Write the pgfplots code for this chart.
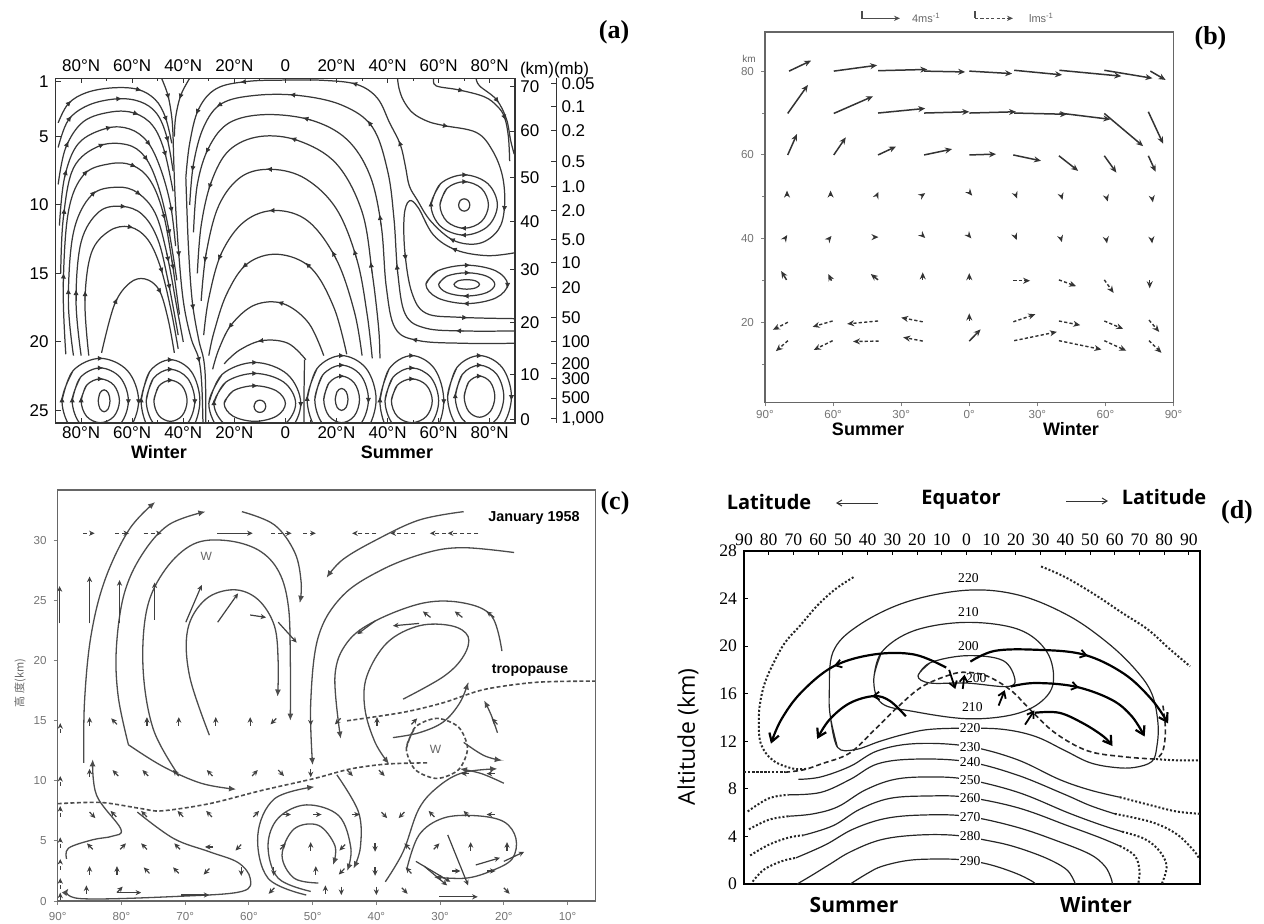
\documentclass[border=0pt]{standalone}
\usepackage{fontspec}
\setmainfont{Liberation Sans}
\newfontfamily\tnr{Liberation Serif}
\newfontfamily\os{Open Sans}
\newfontfamily\cjk{Noto Sans CJK JP}
\usepackage{pgfplots}
\pgfplotsset{compat=1.18}
\usetikzlibrary{arrows.meta}

\tikzset{
  sa/.style={smooth, tension=0.6, black!78, line width=0.62pt},
  sc/.style={smooth, tension=0.6, black!70, line width=0.65pt, -{Latex[length=3.6pt,width=3pt]}},
  sd/.style={smooth, tension=0.6, black!85, line width=0.6pt},
  dd/.style={smooth, tension=0.6, black!85, line width=1pt, densely dotted},
  da/.style={smooth, tension=0.6, black!85, line width=0.8pt, dash pattern=on 2.5pt off 1.5pt},
  ar/.style={smooth, tension=0.6, black, line width=1.1pt, -{Straight Barb[length=4pt,width=5pt]}},
}

\begin{document}
\begin{tikzpicture}
\useasboundingbox (0,0) rectangle (632pt,-461.5pt);

%% ---------------- panel (a) ----------------
\begin{axis}[at={(27.8pt,-39.15pt)}, anchor=north west, scale only axis,
  width=229.85pt, height=172.2pt,
  xmin=-90, xmax=90, ymin=-25.9, ymax=-0.75,
  axis line style={black!80, line width=0.8pt},
  xtick={-80,-60,-40,-20,0,20,40,60,80},
  xticklabels={80°N,60°N,40°N,20°N,0,20°N,40°N,60°N,80°N},
  minor xtick={-70,-50,-30,-10,10,30,50,70},
  ytick={-25,-20,-15,-10,-5,-1}, yticklabels={25,20,15,10,5,1},
  xtick pos=left, ytick pos=left, tick align=inside,
  major tick length=2.5pt, minor tick length=1.5pt,
  tick style={black!80, line width=0.5pt},
  ticklabel style={font=\fontsize{8.5}{9}\selectfont},
  xticklabel style={yshift=1.5pt}]
% winter cell arches
\addplot[sa] coordinates {(-89,-4.0)(-85,-2.6)(-78,-1.8)(-68,-1.45)(-58,-1.55)(-51,-2.3)(-47,-3.6)(-44.5,-5.5)};
\addplot[sa] coordinates {(-89,-5.8)(-85,-3.8)(-77,-2.7)(-66,-2.25)(-57,-2.45)(-50.5,-3.3)(-46.5,-5)(-44,-7.5)};
\addplot[sa] coordinates {(-89,-8.5)(-86,-5.8)(-79,-3.9)(-68,-3.2)(-59,-3.3)(-52,-4.2)(-47.5,-6)(-44,-9)};
\addplot[sa] coordinates {(-88.5,-11.5)(-86.5,-8)(-81,-5.5)(-70,-4.4)(-61,-4.45)(-54,-5.4)(-49,-7.3)(-45,-10)(-43,-13)};
\addplot[sa] coordinates {(-88,-15)(-87,-11)(-83,-7.3)(-73,-5.7)(-62,-5.6)(-55,-6.5)(-50,-8.5)(-46,-11.5)(-42.5,-15.5)};
\addplot[sa] coordinates {(-86,-20.9)(-87,-16)(-85,-10.5)(-79,-7.8)(-69,-7.0)(-60,-7.1)(-53,-8.2)(-48,-10.5)(-44.5,-14)(-41.5,-18)};
\addplot[sa] coordinates {(-83,-21.0)(-85,-17)(-83,-12)(-76,-9.3)(-66,-8.7)(-58,-9.1)(-51,-10.6)(-46.5,-13.5)(-42.5,-17.5)(-40,-20)};
\addplot[sa] coordinates {(-80,-21.0)(-82,-17)(-80,-12.7)(-73,-10.5)(-64,-10.1)(-56,-10.7)(-50,-12.5)(-46,-15.5)(-42,-19.5)};
\addplot[sa] coordinates {(-77,-21.0)(-78.5,-17)(-76,-13.5)(-69,-11.9)(-61,-11.6)(-54,-12.5)(-49,-14.5)(-45,-17.5)(-42,-20.5)};
\addplot[sa] coordinates {(-72,-20.8)(-67,-17.3)(-61,-15.7)(-55,-15.4)(-49.5,-16.2)(-46,-18.3)(-43.5,-20.8)};
% stems
\addplot[sa] coordinates {(-48.5,-0.75)(-46,-2)(-44.5,-3.6)(-44,-5)};
\addplot[sa] coordinates {(-37.5,-0.75)(-41,-2)(-43,-3.6)(-43.5,-5)};
\addplot[sa] coordinates {(-44,-5)(-43.3,-9)(-42,-13)(-40,-17)(-37,-19.7)(-34,-21.2)(-32.8,-23)(-32.3,-25.9)};
\addplot[sa] coordinates {(-39,-8)(-38,-13)(-36.5,-17)(-34,-19.8)(-32,-21.3)(-31.3,-23)(-31.2,-25.9)};
% big cell
\addplot[sa] coordinates {(43.9,-0.76)(44.5,-1.5)(46.3,-2.4)(50,-3.3)(55.8,-3.9)(62,-4.2)(74.7,-4.7)(81,-6)(85,-7.9)(85.8,-10.1)(83.4,-11.8)(76,-12.8)(66,-12.6)(57,-11.2)(51.5,-9.6)(48.5,-8.6)(47,-7.2)(45,-5.6)(40.8,-4.0)(36,-2.2)(28,-1.2)(15,-0.9)(0,-0.88)(-15,-0.98)(-27,-1.5)(-34,-3.0)(-37.5,-5.5)(-39,-8)};
\addplot[sa] coordinates {(89.5,-19.2)(70,-19.2)(55,-19.0)(47,-18.0)(44,-15)(42.5,-11)(40,-7.5)(34,-4.3)(22,-2.7)(5,-2.0)(-12,-2.0)(-25,-2.6)(-32,-4.3)(-36,-7)(-37.5,-10)};
\addplot[sa] coordinates {(89.5,-20.1)(70,-20.1)(52,-19.9)(43,-19.0)(39.5,-16)(37.5,-11.5)(33,-7.8)(24,-5.2)(10,-3.8)(-8,-3.4)(-22,-4.0)(-30,-5.8)(-34.5,-8.5)(-36,-12)};
\addplot[sa] coordinates {(37,-21.2)(36.5,-19)(34,-15)(30,-10.5)(20,-7.0)(5,-5.3)(-10,-5.0)(-22,-6.0)(-29,-8.3)(-33,-11.5)(-34.5,-15)};
\addplot[sa] coordinates {(34,-21.2)(32,-18)(28,-14)(20,-10.3)(8,-8.1)(-5,-7.4)(-17,-7.9)(-26,-10)(-31,-13.5)(-33,-17)};
\addplot[sa] coordinates {(30,-21.0)(27,-17.8)(20,-14)(9,-11.2)(-4,-10.4)(-16,-11.2)(-25,-13.5)(-30,-16.8)(-32,-19.5)};
\addplot[sa] coordinates {(24,-20.9)(19,-17.5)(10,-14.6)(-3,-13.6)(-15,-14.3)(-23,-16.5)(-28,-19.3)(-30,-21)};
\addplot[sa] coordinates {(15,-21.0)(9,-18.6)(-1,-17.2)(-12,-17.3)(-21,-18.7)(-26,-20.5)(-28.5,-22)};
\addplot[sa] coordinates {(8,-21.3)(1,-20.1)(-9,-19.9)(-18,-20.6)(-24,-21.6)};
\addplot[sa] coordinates {(7.3,-25.9)(7.3,-23.5)(7.5,-21.3)};
% upper right
\addplot[sa] coordinates {(89.5,-13.5)(79,-13.7)(67,-13.3)(58,-12.2)(52,-10.2)(48.5,-9.7)(46.5,-10.8)(46.8,-13.5)(49.5,-16.4)(55,-17.9)(68,-18.2)(89.5,-18.3)};
\addplot[sa] coordinates {(58.1,-0.76)(59,-1.3)(68,-1.6)(77.9,-2.1)(83,-2.8)(85.8,-3.6)(87.3,-5)(87.8,-6.8)};
\addplot[sa] coordinates {(74.7,-0.76)(76,-1.3)(82.6,-2.3)(86.5,-3.7)(88.2,-5.3)(89.6,-6.3)};
\addplot[sa] coordinates {(67.8,-10)(68.44,-9.68)(70,-9.55)(71.56,-9.68)(72.2,-10)(71.56,-10.32)(70,-10.45)(68.44,-10.32)(67.8,-10)(68.44,-9.68)};
\addplot[sa] coordinates {(60.5,-10)(63.26,-8.79)(70,-8.3)(76.75,-8.79)(79.5,-10)(76.75,-11.21)(70,-11.7)(63.26,-11.21)(60.5,-10)(63.26,-8.79)};
\addplot[sa] coordinates {(57,-10)(60.77,-8.44)(70,-7.8)(79.23,-8.44)(83,-10)(79.23,-11.56)(70,-12.2)(60.77,-11.56)(57,-10)(60.77,-8.44)};
\addplot[sa] coordinates {(66,-15.8)(67.45,-15.55)(71,-15.45)(74.55,-15.55)(76,-15.8)(74.55,-16.05)(71,-16.15)(67.45,-16.05)(66,-15.8)(67.45,-15.55)};
\addplot[sa] coordinates {(60,-15.8)(63.19,-15.2)(71,-14.95)(78.81,-15.2)(82,-15.8)(78.81,-16.4)(71,-16.65)(63.19,-16.4)(60,-15.8)(63.19,-15.2)};
\addplot[sa] coordinates {(55,-15.8)(59.64,-14.81)(71,-14.4)(82.36,-14.81)(87,-15.8)(82.36,-16.79)(71,-17.2)(59.64,-16.79)(55,-15.8)(59.64,-14.81)};
% bottom cells
\addplot[sa] coordinates {(-73.3,-24.3)(-72.63,-23.73)(-71,-23.5)(-69.37,-23.73)(-68.7,-24.3)(-69.37,-24.87)(-71,-25.1)(-72.63,-24.87)(-73.3,-24.3)(-72.63,-23.73)};
\addplot[sa] coordinates {(-80,-24.3)(-77.83,-23.16)(-72.5,-22.7)(-67.18,-23.16)(-65,-24.3)(-67.18,-25.44)(-72.5,-25.9)(-77.83,-25.44)(-80,-24.3)(-77.83,-23.16)};
\addplot[sa] coordinates {(-83.5,-24.3)(-80.31,-22.6)(-72.5,-21.9)(-64.69,-22.6)(-61.5,-24.3)(-64.69,-26.0)(-72.5,-26.7)(-80.31,-26.0)(-83.5,-24.3)(-80.31,-22.6)};
\addplot[sa] coordinates {(-87.5,-24.3)(-83.15,-22.1)(-72.5,-21.2)(-61.85,-22.1)(-57.5,-24.3)(-61.85,-26.5)(-72.5,-27.4)(-83.15,-26.5)(-87.5,-24.3)(-83.15,-22.1)};
\addplot[sa] coordinates {(-51.5,-24.3)(-49.62,-23.24)(-45,-22.8)(-40.39,-23.24)(-38.5,-24.3)(-40.39,-25.37)(-45,-25.8)(-49.62,-25.37)(-51.5,-24.3)(-49.62,-23.24)};
\addplot[sa] coordinates {(-54.5,-24.3)(-51.75,-22.67)(-45,-22.0)(-38.26,-22.67)(-35.5,-24.3)(-38.26,-25.93)(-45,-26.6)(-51.75,-25.93)(-54.5,-24.3)(-51.75,-22.67)};
\addplot[sa] coordinates {(-56.5,-24.3)(-53.17,-22.17)(-45,-21.3)(-36.84,-22.17)(-33.5,-24.3)(-36.84,-26.43)(-45,-27.3)(-53.17,-26.43)(-56.5,-24.3)(-53.17,-22.17)};
\addplot[sa] coordinates {(-12.3,-24.7)(-11.63,-24.38)(-10,-24.25)(-8.37,-24.38)(-7.7,-24.7)(-8.37,-25.02)(-10,-25.15)(-11.63,-25.02)(-12.3,-24.7)(-11.63,-24.38)};
\addplot[sa] coordinates {(-24,-24.5)(-20.52,-23.58)(-12,-23.2)(-3.48,-23.58)(0,-24.5)(-3.48,-25.42)(-12,-25.8)(-20.52,-25.42)(-24,-24.5)(-20.52,-23.58)};
\addplot[sa] coordinates {(-28,-24.5)(-23.36,-22.94)(-12,-22.3)(-0.64,-22.94)(4,-24.5)(-0.64,-26.06)(-12,-26.7)(-23.36,-26.06)(-28,-24.5)(-23.36,-22.94)};
\addplot[sa] coordinates {(-30,-24.5)(-24.78,-22.37)(-12,-21.5)(0.78,-22.37)(6,-24.5)(0.78,-26.63)(-12,-27.5)(-24.78,-26.63)(-30,-24.5)(-24.78,-22.37)};
\addplot[sa] coordinates {(19.5,-24.2)(20.23,-23.63)(22,-23.4)(23.78,-23.63)(24.5,-24.2)(23.78,-24.77)(22,-25.0)(20.23,-24.77)(19.5,-24.2)(20.23,-23.63)};
\addplot[sa] coordinates {(15,-24.2)(17.03,-23.0)(22,-22.5)(26.97,-23.0)(29,-24.2)(26.97,-25.41)(22,-25.9)(17.03,-25.41)(15,-24.2)(17.03,-23.0)};
\addplot[sa] coordinates {(11.5,-24.2)(14.55,-22.43)(22,-21.7)(29.46,-22.43)(32.5,-24.2)(29.46,-25.98)(22,-26.7)(14.55,-25.98)(11.5,-24.2)(14.55,-22.43)};
\addplot[sa] coordinates {(8.5,-24.2)(12.42,-21.93)(22,-21.0)(31.59,-21.93)(35.5,-24.2)(31.59,-26.47)(22,-27.4)(12.42,-26.47)(8.5,-24.2)(12.42,-21.93)};
\addplot[sa] coordinates {(41.5,-24.3)(43.82,-23.16)(49.5,-22.7)(55.18,-23.16)(57.5,-24.3)(55.18,-25.44)(49.5,-25.9)(43.82,-25.44)(41.5,-24.3)(43.82,-23.16)};
\addplot[sa] coordinates {(39,-24.3)(42.05,-22.6)(49.5,-21.9)(56.96,-22.6)(60,-24.3)(56.96,-26.0)(49.5,-26.7)(42.05,-26.0)(39,-24.3)(42.05,-22.6)};
\addplot[sa] coordinates {(37,-24.3)(40.63,-21.96)(49.5,-21.0)(58.38,-21.96)(62,-24.3)(58.38,-26.64)(49.5,-27.6)(40.63,-26.64)(37,-24.3)(40.63,-21.96)};
\addplot[sa] coordinates {(70,-24.0)(71.74,-22.94)(76,-22.5)(80.26,-22.94)(82,-24.0)(80.26,-25.07)(76,-25.5)(71.74,-25.07)(70,-24.0)(71.74,-22.94)};
\addplot[sa] coordinates {(66.5,-24)(69.26,-22.37)(76,-21.7)(82.75,-22.37)(85.5,-24)(82.75,-25.63)(76,-26.3)(69.26,-25.63)(66.5,-24)(69.26,-22.37)};
\addplot[sa] coordinates {(63.5,-24)(67.13,-21.87)(76,-21.0)(84.88,-21.87)(88.5,-24)(84.88,-26.13)(76,-27.0)(67.13,-26.13)(63.5,-24)(67.13,-21.87)};
% arrowheads along the streamlines
\addplot[black!80, line width=0.4pt, -{Latex[length=2.8pt,width=2.6pt]},
  quiver={u=\thisrow{u},v=\thisrow{v}}] table {
x y u v
-85 -2.6 1.1 0.22
-58 -1.55 1.7 -0.085
-47 -3.6 0.65 -0.32
-85 -3.8 1.2 0.31
-66 -2.25 2.0 0.025
-46.5 -5 0.65 -0.42
-86 -5.8 1.0 0.46
-59 -3.3 1.6 -0.1
-47.5 -6 0.8 -0.48
-86.5 -8 0.75 0.6
-70 -4.4 2.0 0.1
-54 -5.4 1.2 -0.285
-45 -10 0.6 -0.57
-87 -11 0.5 0.77
-73 -5.7 2.1 0.17
-55 -6.5 1.2 -0.29
-46 -11.5 0.75 -0.7
-87 -16 0.1 1.04
-79 -7.8 1.6 0.35
-60 -7.1 1.6 -0.12
-48 -10.5 0.85 -0.58
-44.5 -14 0.65 -0.75
-85 -17 0 0.9
-76 -9.3 1.7 0.33
-58 -9.1 1.5 -0.19
-46.5 -13.5 0.85 -0.69
-82 -17 0 0.83
-64 -10.1 1.7 -0.02
-46 -15.5 0.8 -0.7
-78.5 -17 0.1 0.75
-61 -11.6 1.5 -0.06
-49 -14.5 0.9 -0.5
-67 -17.3 1.1 0.51
-49.5 -16.2 0.9 -0.29
-42 -13 0.33 -0.8
-34 -21.2 0.42 -0.33
-36.5 -17 0.4 -0.68
-46 -2 0.4 -0.285
-41 -2 -0.55 -0.285
62 -4.2 1.9 -0.08
85.8 -10.1 -0.16 -0.39
66 -12.6 -1.9 0.16
45 -5.6 -0.62 0.32
28 -1.2 -2.1 0.13
-15 -0.98 -2.7 -0.062
-34 -3.0 -1.05 -0.4
70 -19.2 -3.45 0.02
44 -15 -0.45 0.7
34 -4.3 -1.8 0.48
5 -2.0 -3.4 0.07
-25 -2.6 -2 -0.23
-36 -7 -0.55 -0.57
52 -19.9 -2.7 0.11
37.5 -11.5 -0.65 0.82
10 -3.8 -3.2 0.18
-30 -5.8 -1.25 -0.45
34 -15 -0.65 0.85
5 -5.3 -3 0.2
-29 -8.3 -1.1 -0.55
28 -14 -1.2 0.77
-5 -7.4 -2.5 0.02
-31 -13.5 -0.7 -0.7
20 -14 -1.8 0.66
-4 -10.4 -2.5 0
-25 -13.5 -1.4 -0.56
10 -14.6 -2.2 0.39
-15 -14.3 -2 -0.29
-1 -17.2 -2.1 0.13
-21 -18.7 -1.4 -0.32
-9 -19.9 -1.9 -0.05
67 -13.3 -2.1 0.15
46.8 -13.5 0.3 -0.56
68 -18.2 3.45 -0.04
68 -1.6 1.9 -0.08
85.8 -3.6 0.43 -0.22
82.6 -2.3 1.05 -0.24
70 -8.3 1.5 0
70 -11.7 -1.5 0
70 -7.8 1.5 0
70 -12.2 -1.5 0
57 -10 0 0.3
71 -14.95 1.5 0
71 -16.65 -1.5 0
71 -14.4 1.5 0
71 -17.2 -1.5 0
87 -15.8 0 -0.3
-72.5 -22.7 1.2 0
-80 -24.3 0 0.3
-72.5 -21.9 1.2 0
-83.5 -24.3 0 0.3
-61.5 -24.3 0 -0.3
-72.5 -21.2 1.2 0
-87.5 -24.3 0 0.3
-57.5 -24.3 0 -0.3
-45 -22.8 1.2 0
-45 -22.0 1.2 0
-35.5 -24.3 0 -0.3
-45 -21.3 1.2 0
-56.5 -24.3 0 0.3
-12 -23.2 1.2 0
-12 -22.3 1.2 0
-28 -24.5 0 0.3
-12 -21.5 1.2 0
6 -24.5 0 -0.3
22 -22.5 1.2 0
22 -21.7 1.2 0
32.5 -24.2 0 -0.3
22 -21.0 1.2 0
8.5 -24.2 0 0.3
49.5 -22.7 1.2 0
49.5 -21.9 1.2 0
49.5 -21.0 1.2 0
37 -24.3 0 0.3
62 -24.3 0 -0.3
76 -22.5 1.2 0
76 -21.7 1.2 0
66.5 -24 0 0.3
76 -21.0 1.2 0
88.5 -24 0 -0.3
};
\end{axis}

% top and km scale of (a)
\begin{axis}[at={(27.8pt,-39.15pt)}, anchor=north west, scale only axis,
  width=229.85pt, height=172.2pt,
  xmin=-90, xmax=90, ymin=-25.9, ymax=-0.75,
  axis x line*=top, axis y line*=right,
  axis line style={black!80, line width=0.8pt},
  xtick={-80,-60,-40,-20,0,20,40,60,80},
  xticklabels={80°N,60°N,40°N,20°N,0,20°N,40°N,60°N,80°N},
  minor xtick={-70,-50,-30,-10,10,30,50,70},
  ytick={-25.7,-22.4,-18.56,-14.7,-11.2,-8.0,-4.6,-1.35},
  yticklabels={0,10,20,30,40,50,60,70},
  tick align=inside, major tick length=2.5pt, minor tick length=1.5pt,
  tick style={black!80, line width=0.5pt},
  ticklabel style={font=\fontsize{8.5}{9}\selectfont},
  yticklabel style={xshift=-1pt}]
\addplot[draw=none] coordinates {(0,-10)};
\end{axis}

% mb scale of (a)
\begin{axis}[at={(274.25pt,-39.15pt)}, anchor=north west, scale only axis,
  width=4pt, height=172.2pt, xmin=0, xmax=1, ymin=-25.9, ymax=-0.75,
  hide x axis, axis y line*=right,
  axis line style={black!80, line width=0.6pt},
  ytick={-25.6,-24.1,-22.7,-21.6,-20.0,-18.2,-16.05,-14.2,-12.55,-10.4,-8.68,-6.84,-4.57,-2.82,-1.12},
  yticklabels={{1,000},500,300,200,100,50,20,10,5.0,2.0,1.0,0.5,0.2,0.1,0.05},
  tick align=inside, major tick length=3pt,
  tick style={black!80, line width=0.5pt},
  ticklabel style={font=\fontsize{8.5}{9}\selectfont},
  yticklabel style={xshift=-1pt}]
\addplot[draw=none] coordinates {(0.5,-10)};
\end{axis}

%% ---------------- panel (b) ----------------
\begin{axis}[at={(382.5pt,-15.85pt)}, anchor=north west, scale only axis,
  width=204.25pt, height=185.3pt,
  xmin=-90, xmax=90, ymin=1, ymax=89.4,
  axis line style={black!60, line width=0.8pt},
  xtick={-90,-60,-30,0,30,60,90}, xticklabels={90°,60°,30°,0°,30°,60°,90°},
  ytick={20,40,60,80}, yticklabels={20,40,60,80}, minor ytick={10,30,50,70},
  xtick pos=left, ytick pos=left, tick align=outside,
  major tick length=2pt, minor tick length=1.5pt,
  tick style={black!50, line width=0.5pt},
  ticklabel style={font=\fontsize{5.8}{6}\selectfont, text=black!55},
  xticklabel style={yshift=1.5pt}]
\addplot[black!80, line width=0.75pt, -{Stealth[length=3.5pt,width=3pt]},
  quiver={u=\thisrow{u},v=\thisrow{v}}] table {
x y u v
-79.4 80 9.7 2.5
-59.7 80 19.1 1.4
-40.2 80.1 21.7 0.3
-19.9 80 18.1 -0.2
0 80 18.9 -0.6
19.8 80.2 21.1 -1.1
39.7 80.2 27.3 -1.4
59.5 80.2 21.2 -1.9
79.8 80 6.7 -2.1
-80 69.9 8.9 6.8
-59.7 69.9 17.3 4.1
-40.2 70 20.8 1.1
-19.9 70 19.9 0.3
0 70 20.6 0.3
19.8 70 23.3 -0.3
39.7 70 22.4 -1.5
59.5 69.9 17.1 -7.8
78.9 70.3 6.5 -7.6
-80 60 4.1 5
-59.7 60 5.3 4.2
-40.2 60 7.9 2
-19.9 60 12.3 1.4
0 60 11.8 0.2
19.4 60 12.2 -1.4
39.5 59.8 8.5 -3.6
59.5 59.8 5.3 -4
78.9 59.8 3.2 -3.8
-80.3 50.3 0 1.2
-61.1 50.3 0 1.2
-40.5 50.6 0.5 0.6
-20.2 50.6 0.8 0.3
0.5 50.8 0.8 -0.5
20.5 50.4 0.6 -0.8
40.6 50.2 0.5 -0.9
60.5 49.9 0.5 -1.0
80.6 49.7 0.3 -1.0
-80.8 40.4 0.6 0.5
-61.3 40.3 0.6 0.4
-41 40.4 1.0 0
-20.2 40.6 0.8 -0.4
0.1 40.6 0.8 -0.5
20.4 40.4 0.5 -0.7
40.4 40 0.4 -0.8
60.4 39.8 0.3 -0.9
80.4 39.8 0.2 -0.9
-80.5 30.2 -2.4 2.1
-60.7 30.0 -1.4 1.6
-40.2 30.2 -3.2 1.4
-20.5 30.2 0 1.8
0 30.2 0 1.6
0 20.4 0 1.8
0 15.6 5 2.8
};
\addplot[black!80, line width=0.7pt, dash pattern=on 1.6pt off 1.1pt, -{Stealth[length=3.5pt,width=3pt]},
  quiver={u=\thisrow{u},v=\thisrow{v}}] table {
x y u v
19.4 30 7.4 0
39.5 30.2 7.6 -1.5
59.5 30.2 4.1 -3.1
79.5 30.2 0 -2
-79.9 20.1 -6.6 -1.8
-60.2 20.4 -8.8 -1.4
-40.2 20.4 -13.6 -0.7
-20.5 20.2 -9.5 1
19.4 20.2 9.7 1.8
39.5 20.4 9.4 -1
59.5 20.4 8.3 -1.9
79.2 20.6 4.5 -2.8
-79.9 15.7 -5.3 -2.5
-60.2 15.7 -8.3 -2.2
-39.9 15.6 -11.3 -0.1
-20.5 15.6 -8.6 0.9
19.8 15.7 18.8 2.1
39.5 15.7 18.7 -2.1
59.5 15.7 9.7 -2.4
79.2 15.7 5.5 -2.9
};
\end{axis}

%% ---------------- panel (c) ----------------
\begin{axis}[at={(28.85pt,-245pt)}, anchor=north west, scale only axis,
  width=268.95pt, height=205.5pt,
  xmin=-90, xmax=-5.6, ymin=0, ymax=34.2,
  axis line style={black!60, line width=0.8pt},
  xtick={-90,-80,-70,-60,-50,-40,-30,-20,-10},
  xticklabels={90°,80°,70°,60°,50°,40°,30°,20°,10°},
  ytick={0,5,10,15,20,25,30}, yticklabels={0,5,10,15,20,25,30},
  xtick pos=left, ytick pos=left, tick align=outside,
  major tick length=2pt, tick style={black!50, line width=0.5pt},
  ticklabel style={font=\fontsize{5.8}{6}\selectfont, text=black!55}]
\addplot[sc] coordinates {(-85.9,11.5)(-85.8,16.5)(-84.8,22)(-82.6,26.7)(-78.8,30.9)(-74.7,33.2)};
\addplot[sc] coordinates {(-71.2,10.6)(-75,14.3)(-76.6,19.3)(-76,24.3)(-73.1,27.6)(-68.7,29.7)(-63.6,30.0)(-58.5,29.2)(-55.3,27.4)(-53.8,24.5)(-53.5,20)(-53.5,15)};
\addplot[sc] coordinates {(-66.2,13.8)(-69.3,18.7)(-69.6,22.6)(-66.8,25.1)(-62.4,25.9)(-58.6,25.1)(-56,22.9)(-55.4,19.8)(-55.5,17)};
\addplot[sc] coordinates {(-78.9,13.0)(-80.5,17)(-80.8,21)(-79.6,25.5)(-76.8,28.8)(-72.6,31.3)(-66.8,32.4)};
\addplot[sc] coordinates {(-61.1,32.4)(-56,31.3)(-52.8,29)(-51.8,26.5)(-52,24.8)};
\addplot[sc] coordinates {(-18.4,29)(-26.3,29.4)(-32,29)(-39,27.6)(-45.3,25.4)(-49.1,22)(-50.3,16.5)(-50,11.3)};
\addplot[sc] coordinates {(-26.3,32.4)(-33.3,31.7)(-40.2,30.0)(-45.3,28.4)(-47.8,26.9)};
\addplot[sc] coordinates {(-20.3,20.8)(-21.9,23.7)(-26.3,24.8)(-32.6,24.8)(-40.2,23.3)(-44.6,21.5)(-46.5,18.7)(-45.6,13.5)};
\addplot[sc] coordinates {(-35.8,16.8)(-29.4,18.7)(-26.3,20.4)(-25.6,22)(-28.2,22.9)(-33.3,22.9)(-38.3,21.5)(-41.5,18.7)(-41.8,16)(-40.2,13.2)(-38,11.4)};
\addplot[sc] coordinates {(-37.4,13.6)(-33.3,14)(-29.5,14.9)(-26.9,16.5)(-25.6,18.2)};
\addplot[sc] coordinates {(-21,14)(-22,15.5)(-23.1,16.7)};
\addplot[sc] coordinates {(-26.3,13.2)(-23.1,12.1)(-20.3,11.7)};
\addplot[sc] coordinates {(-20,9.8)(-23.5,10.6)(-26.9,11)};
\addplot[sc] coordinates {(-38.6,1.6)(-35.8,4.1)(-33.3,7.7)(-30.1,9.6)(-26.3,10.7)(-21,11.0)};
\addplot[sc] coordinates {(-51,0.5)(-57,1.9)(-58.6,5.5)(-56,8.5)(-49.7,9.5)};
\addplot[sc] coordinates {(-50.3,0.8)(-55.4,1.9)(-57,4.6)(-55.4,6.9)(-51,8)(-45.9,7.1)(-44,4.4)(-44.6,2.5)};
\addplot[sc] coordinates {(-49.1,1.5)(-52.9,1.9)(-54.8,3.8)(-52.9,6)(-49.1,6.3)(-46.5,4.6)(-46.8,3.0)};
\addplot[sc] coordinates {(-46.2,10.5)(-42.8,7.4)(-42.5,4.5)(-43.6,2.7)};
\addplot[sc] coordinates {(-35.2,2.7)(-33.3,5.5)(-29.5,6.9)(-24.4,7.1)(-20,6.6)(-18.1,5.2)(-18.7,3.5)(-22,2.5)(-26,1.9)(-31,2.0)};
\addplot[sc] coordinates {(-78.9,13)(-73.5,11.2)(-67.5,9.8)(-62,9.3)};
\addplot[sc] coordinates {(-77.5,7.4)(-71.8,5.2)(-66.2,4.1)(-61.7,3.2)(-59.8,1.9)(-61.1,0.8)(-70.6,0.4)(-86.4,0.2)(-88.3,1.05)};
\addplot[sc] coordinates {(-88.6,3.5)(-88.3,4.4)(-84.5,5.1)(-81.4,5.4)(-80.1,6.0)(-83.9,8.8)(-84.5,11.8)};
% tropopause
\addplot[smooth, black!70, line width=0.8pt, dash pattern=on 2pt off 1.2pt] coordinates {(-90,8.1)(-83.2,8.2)(-77,7.7)(-73.7,7.5)(-66.2,8.1)(-58,9.2)(-49.7,10.2)(-44,11)(-38.3,11.4)(-32,11.5)};
\addplot[smooth, black!70, line width=0.8pt, dash pattern=on 2pt off 1.2pt] coordinates {(-44.6,15)(-35.8,15.7)(-29.5,16.5)(-23.1,17.6)(-14.9,18.2)(-5.7,18.3)};
\addplot[smooth, black!70, line width=0.8pt, dash pattern=on 2pt off 1.2pt] coordinates {(-35.3,12.7)(-33.9,14.47)(-30.5,15.2)(-27.1,14.47)(-25.7,12.7)(-27.1,10.93)(-30.5,10.2)(-33.9,10.93)(-35.3,12.7)(-33.9,14.47)};
% small arrows
\addplot[black!75, line width=0.6pt, -{Stealth[length=2.8pt,width=2.6pt]},
  quiver={u=\thisrow{u},v=\thisrow{v}}] table {
x y u v
-85 14.6 0 0.7
-80.7 14.7 -0.9 0.5
-76 14.6 0 0.7
-71 14.6 0 0.7
-65.2 14.6 0 0.7
-59.8 14.6 0 0.7
-55.7 15.2 -0.9 -0.5
-50.3 15.3 0 -0.7
-45.6 15.2 -0.9 -0.5
-39.9 14.6 0 0.7
-34.5 14.7 0.9 0.5
-21 14.7 -0.9 0.5
-85 10.3 0 0.7
-80.5 10.4 -0.9 0.5
-75.8 10.4 -0.9 0.5
-71 10.4 -0.9 0.5
-65.7 10.4 -0.9 0.5
-59.5 10.4 0.9 0.5
-55.4 10.9 0.9 -0.5
-50.3 11 0 -0.7
-44.6 10.9 0.9 -0.5
-39.6 10.9 0.9 -0.5
-25.4 10.6 -1.3 0
-21.4 10.6 -1.3 0
-85 7.4 0.9 -0.5
-80.8 7.0 -0.9 0.5
-76 7.0 -0.9 0.5
-70.3 7.0 -0.9 0.5
-65.8 7.0 -0.9 0.5
-59.3 7.0 0.9 0.5
-54.7 7.2 1.3 0
-49.9 7.2 1.3 0
-43.9 7.2 1.3 0
-39.2 7.4 0.9 -0.5
-35.6 7.4 -0.9 -0.5
-30.9 7.0 -0.9 0.5
-25.4 7.0 -0.9 0.5
-21.4 7.2 -1.3 0
-84.5 4.3 -0.9 0.5
-80.2 4.3 0.9 0.5
-76 4.3 -0.9 0.5
-70.8 4.3 -0.9 0.5
-65.6 4.5 -1.3 0
-61.2 4.7 -0.9 -0.5
-55.1 4.3 0.9 0.5
-50.3 4.2 0 0.7
-44.9 4.7 -0.9 -0.5
-40.2 4.8 0 -0.7
-34.7 4.3 -0.9 0.5
-31 4.3 0.9 0.5
-25.2 4.2 0 0.7
-19.5 4.2 0 0.7
-85 2.2 0 0.7
-80.7 2.2 0 0.7
-75.6 2.3 -0.9 0.5
-71 2.3 -0.9 0.5
-66.2 2.7 -0.9 -0.5
-61.2 2.8 0 -0.7
-56.1 2.8 0 -0.7
-49.5 2.2 0 0.7
-45 2.7 -0.9 -0.5
-40.2 2.8 0 -0.7
-34.5 2.3 -0.9 0.5
-28.1 2.5 1.3 0
-22.6 2.5 1.3 0
-85.5 0.6 0 0.7
-80.7 0.7 0.9 0.5
-56 1.1 -0.9 -0.5
-48 0.6 0 0.7
-45.5 1.2 0 -0.7
-40 1.2 0 -0.7
-36 1.1 0.9 -0.5
-20 1.1 0.9 -0.5
-59.8 23.8 2.5 -0.2
-55.4 23.2 2.9 -1.7
-69.9 23.2 2.5 3.1
-64.9 23.2 3.2 2.4
-85 23.1 0 3.9
-80.3 23.1 0 3.6
-74.8 23.4 0 3.1
-89.7 23.1 0 3.1
-40.2 23.3 -2.8 -1.1
-33.3 23.1 -4.1 -0.2
-31.5 23.6 -1.2 0.5
-26.5 23.6 -1.2 0.5
-21.5 23.6 -1.2 0.5
-80.7 0.7 3.8 0
-70.6 0.5 4.4 0
-30.1 0.35 6 0
-33.8 3.3 5.4 -1.7
-32.5 2.9 3.6 -1.6
-28.8 5.5 3.2 -4.2
-24.4 3.0 3.8 0.6
-20 3.3 3.2 0.8
-65 30.6 5.6 0
};
\addplot[black!75, line width=0.6pt, dash pattern=on 2pt off 1.5pt, -{Stealth[length=2.8pt,width=2.6pt]},
  quiver={u=\thisrow{u},v=\thisrow{v}}] table {
x y u v
-86 30.6 1.8 0
-81 30.6 2.2 0
-76.5 30.6 2.8 0
-56.5 30.6 3.2 0
-51.5 30.6 2 0
-40 30.6 -3.8 0
-34 30.6 -3.8 0
-29 30.6 -2.6 0
-24 30.6 -4.8 0
-89.6 0.1 0 0.6
-89.6 1.0 0 0.9
-89.6 2.6 0 0.9
-89.6 4.4 0 0.9
-89.6 7.0 0 0.9
-89.6 9.6 0 0.8
-89.6 14.0 0 0.8
};
\node[font=\fontsize{6}{6}\selectfont, text=black!60] at (axis cs:-66.7,28.7) {W};
\node[font=\fontsize{6}{6}\selectfont, text=black!60] at (axis cs:-30.7,12.6) {W};
\end{axis}

%% ---------------- panel (d) ----------------
\begin{axis}[at={(372pt,-275.5pt)}, anchor=north west, scale only axis,
  width=228pt, height=166.5pt,
  xmin=-90, xmax=94.5, ymin=0, ymax=28,
  axis line style={black, line width=0.8pt},
  xtick={-90,-80,-70,-60,-50,-40,-30,-20,-10,0,10,20,30,40,50,60,70,80,90},
  xticklabels={90,80,70,60,50,40,30,20,10,0,10,20,30,40,50,60,70,80,90},
  xtick pos=right, xticklabel pos=right,
  ytick={0,4,8,12,16,20,24,28}, yticklabels={0,4,8,12,16,20,24,28},
  ytick pos=left, tick align=inside, major tick length=2pt,
  tick style={black, line width=0.5pt},
  ticklabel style={font=\tnr\fontsize{8.8}{9}\selectfont},
  xticklabel style={yshift=-1pt}]
\addplot[sd] coordinates {(-47,0)(-40,0.9)(-34,1.5)(-23,2.0)(-10,2.1)(0,2.0)(10,1.6)(20,0.9)(26,0.3)(28,0)};
\addplot[sd] coordinates {(-68.5,0)(-62,0.8)(-55,1.7)(-47,2.7)(-35,3.7)(-21,4.1)(-5,4.1)(10,3.6)(20,3.1)(32,2.2)(40,1.3)(43,0.5)(44,0)};
\addplot[dd] coordinates {(-86.5,0.2)(-82,1.2)(-75,1.9)(-69,2.2)};
\addplot[sd] coordinates {(-69,2.2)(-57,3.3)(-46,4.6)(-33,5.5)(-18,5.8)(0,5.7)(20,4.8)(37,3.6)(50,2.5)(56,1.5)(58.5,0.5)(59,0)};
\addplot[dd] coordinates {(-87.5,2.4)(-80,3.3)(-72,3.9)(-66,4.1)};
\addplot[sd] coordinates {(-66,4.1)(-54,4.9)(-43,6.3)(-31,7.2)(-16,7.4)(0,7.3)(21,6.4)(41,4.9)(54,3.9)(62,3.2)};
\addplot[dd] coordinates {(62,3.2)(68,2.4)(70,1.2)(69.5,0)};
\addplot[dd] coordinates {(-88,4.6)(-80,5.4)(-72,5.7)};
\addplot[sd] coordinates {(-72,5.7)(-62,5.9)(-52,6.5)(-41,7.9)(-29,8.8)(-15,9.0)(0,8.8)(21,7.7)(41,6.0)(54,5.0)(63,4.4)};
\addplot[dd] coordinates {(63,4.4)(72,3.8)(78,2.8)(81,1.5)(79,0)};
\addplot[dd] coordinates {(-88.5,6.1)(-80,7.2)(-72,7.5)};
\addplot[sd] coordinates {(-72,7.5)(-59,7.7)(-47,8.8)(-36,10.1)(-21,10.5)(0,10.3)(20,9.2)(39,7.6)(50,6.6)(60,5.9)};
\addplot[dd] coordinates {(60,5.9)(75,5.2)(85,4.2)(92,2.8)(94.5,2.0)};
\addplot[sd] coordinates {(-68,8.8)(-59,9.0)(-47,9.9)(-36,11.2)(-21,11.8)(0,11.6)(20,10.5)(37.5,8.8)(50,7.9)(62,7.3)};
\addplot[dd] coordinates {(62,7.3)(75,6.6)(85,6.1)(94.5,5.9)};
\addplot[sd] coordinates {(-52.2,11.5)(-55,14)(-55.5,16)(-54,19.5)(-44,21.7)(-24.5,23.7)(0,24.7)(21,24.3)(41,22.6)(57,20.3)(68.5,18)(75,16)(77.5,13.5)(77,11.5)(75,10.3)(68,9.8)(60,9.8)(50,10.2)(40,11.2)(28,12.4)(15,13.0)(0,13.1)(-15,13.0)(-25,12.6)(-35,12.0)(-45,11.3)(-52.2,11.5)(-55,14)};
\addplot[sd] coordinates {(-37.5,17.2)(-34.3,19.5)(-21.2,21.3)(0,22)(21.2,21.4)(32.6,19.5)(35.1,16.9)(29.4,15.2)(17.9,14.2)(0,13.9)(-21.2,14.5)(-34.3,15.2)(-37.5,17.2)(-34.3,19.5)};
\addplot[sd] coordinates {(-19.6,17.5)(-14.7,18.6)(0,19.2)(14.7,18.8)(19.6,17.2)(16.3,16.6)(0,16.9)(-14.7,16.9)(-19.6,17.5)(-14.7,18.6)};
% dotted arcs and tropopause
\addplot[dd] coordinates {(-45.7,25.8)(-53,24.8)(-60.4,23.4)(-67,21.8)(-73.4,20.3)(-78,18.6)(-81.6,16.9)(-83.5,15.2)(-84,13.8)(-83.2,11.8)(-78.3,10.4)(-70.1,9.7)(-64,9.7)};
\addplot[dd] coordinates {(30.2,26.7)(40,25.8)(52.2,24.3)(63,22.8)(73.4,21.4)(82,19.8)(90.5,18.3)};
\addplot[dd] coordinates {(-90,9.4)(-80,9.4)(-73.4,9.4)};
\addplot[da] coordinates {(-73.4,9.4)(-66,9.6)(-58.7,10.1)(-47.3,11)(-37.5,12.9)(-27.7,14.9)(-17.9,16.6)(-6.5,17.6)(0,17.8)(8.2,17.5)(17.9,16.3)(26.1,14.6)(35.9,12.7)(49,11.2)(63.6,10.7)(76.7,10.5)};
\addplot[dd] coordinates {(76.7,10.5)(85,10.4)(94.5,10.4)};
\addplot[da] coordinates {(79.5,15)(80.5,13)(79.5,11.2)(76.7,10.5)};
% circulation arrows
\addplot[ar] coordinates {(-8.2,18.2)(-21.2,19.3)(-37.5,19.3)(-53.8,18.3)(-66.9,16.1)(-75,13.8)(-79.1,11.8)};
\addplot[ar] coordinates {(-24.5,14.1)(-31,15.4)(-37.5,15.8)(-47.3,15.2)(-55.5,13.8)(-60.4,12.2)};
\addplot[ar] coordinates {(1.6,18.7)(11.4,19.6)(27.7,19.7)(47.3,19.3)(63.6,17.7)(75,15.5)(81.6,13.5)};
\addplot[ar] coordinates {(17.9,16.6)(27.7,16.9)(44,16.6)(58.7,15.5)(66.9,14.1)(72.1,12.4)};
\addplot[ar] coordinates {(27.7,14.4)(37.5,14.4)(47.3,13.5)(55.5,12.4)(59.1,11.6)};
\addplot[black, line width=0.9pt, -{Straight Barb[length=3pt,width=4pt]},
  quiver={u=\thisrow{u},v=\thisrow{v}}] table {
x y u v
-52 18.45 -1.6 -0.1
-37.5 15.8 -0.8 -0.01
47.3 19.3 1.8 -0.1
44 16.6 1.55 -0.07
-7 18.0 2.5 -1.6
-1.5 16.4 0.7 1.2
13 15.0 2.5 1.3
23.7 13.4 3.8 1.2
};
\tikzset{tl/.style={fill=white, inner sep=0.4pt, font=\tnr\fontsize{6.8}{7}\selectfont}}
\node[tl] at (axis cs:1.5,13.1) {220};
\node[tl] at (axis cs:1.5,11.55) {230};
\node[tl] at (axis cs:1.5,10.25) {240};
\node[tl] at (axis cs:1.5,8.75) {250};
\node[tl] at (axis cs:1.5,7.25) {260};
\node[tl] at (axis cs:1.5,5.65) {270};
\node[tl] at (axis cs:1.5,4.05) {280};
\node[tl] at (axis cs:1.5,1.95) {290};
\node[tl, fill=none] at (axis cs:0.8,25.7) {220};
\node[tl, fill=none] at (axis cs:0.8,22.9) {210};
\node[tl, fill=none] at (axis cs:0.8,20.0) {200};
\node[tl, fill=none] at (axis cs:2.4,14.9) {210};
\node[tl, fill=none] at (axis cs:4,17.3) {200};
\end{axis}

%% ---------------- free text ----------------
\begin{scope}[x=0.5pt, y=-0.5pt]
\node[font=\tnr\bfseries\fontsize{13}{13}\selectfont] at (614,32) {(a)};
\node[font=\tnr\bfseries\fontsize{13}{13}\selectfont] at (1210.5,38) {(b)};
\node[font=\tnr\bfseries\fontsize{13}{13}\selectfont] at (615,503) {(c)};
\node[font=\tnr\bfseries\fontsize{13}{13}\selectfont] at (1237,512) {(d)};
\node[anchor=west, font=\fontsize{8.5}{9}\selectfont] at (513,70) {(km)(mb)};
\node[font=\bfseries\fontsize{9}{9}\selectfont] at (159,452) {Winter};
\node[font=\bfseries\fontsize{9}{9}\selectfont] at (397,452) {Summer};
\node[font=\bfseries\fontsize{9}{9}\selectfont] at (868,429) {Summer};
\node[font=\bfseries\fontsize{9}{9}\selectfont] at (1071,429) {Winter};
\node[font=\fontsize{5}{5}\selectfont, text=black!60] at (749,59) {km};
\draw[black!70, line width=0.6pt, -{Stealth[length=3pt,width=2.6pt]}] (862,11) -- (862,18.3) -- (900,18.3);
\draw[black!70, line width=0.6pt] (975,11) -- (975,18.3);
\draw[black!70, line width=0.6pt, dash pattern=on 1.6pt off 1.1pt, -{Stealth[length=3pt,width=2.6pt]}] (975,18.3) -- (1013,18.3);
\node[anchor=west, font=\fontsize{5.5}{6}\selectfont, text=black!60] at (905,18.3) {4ms\textsuperscript{-1}};
\node[anchor=west, font=\fontsize{5.5}{6}\selectfont, text=black!60] at (1022,18.3) {lms\textsuperscript{-1}};
\node[font=\bfseries\fontsize{7.2}{8}\selectfont] at (534,517.5) {January 1958};
\node[font=\bfseries\fontsize{7}{8}\selectfont] at (530,670) {tropopause};
\node[rotate=90, font=\cjk\fontsize{5.5}{6}\selectfont, text=black!60] at (20,683) {高 度(km)};
\node[font=\os\bfseries\fontsize{10}{10}\selectfont] at (769,502) {Latitude};
\draw[black!80, line width=0.5pt, -{Straight Barb[length=2.5pt,width=3pt]}] (878,503) -- (836,503);
\node[font=\os\bfseries\fontsize{10}{10}\selectfont] at (961,500) {Equator};
\draw[black!80, line width=0.5pt, -{Straight Barb[length=2.5pt,width=3pt]}] (1066,501) -- (1108,501);
\node[font=\os\bfseries\fontsize{10}{10}\selectfont] at (1164,497) {Latitude};
\node[rotate=90, font=\os\fontsize{11.5}{12}\selectfont] at (688,737) {Altitude (km)};
\node[font=\os\bfseries\fontsize{10.5}{11}\selectfont] at (854,905) {Summer};
\node[font=\os\bfseries\fontsize{10.5}{11}\selectfont] at (1096,905) {Winter};
\end{scope}
\end{tikzpicture}
\end{document}
